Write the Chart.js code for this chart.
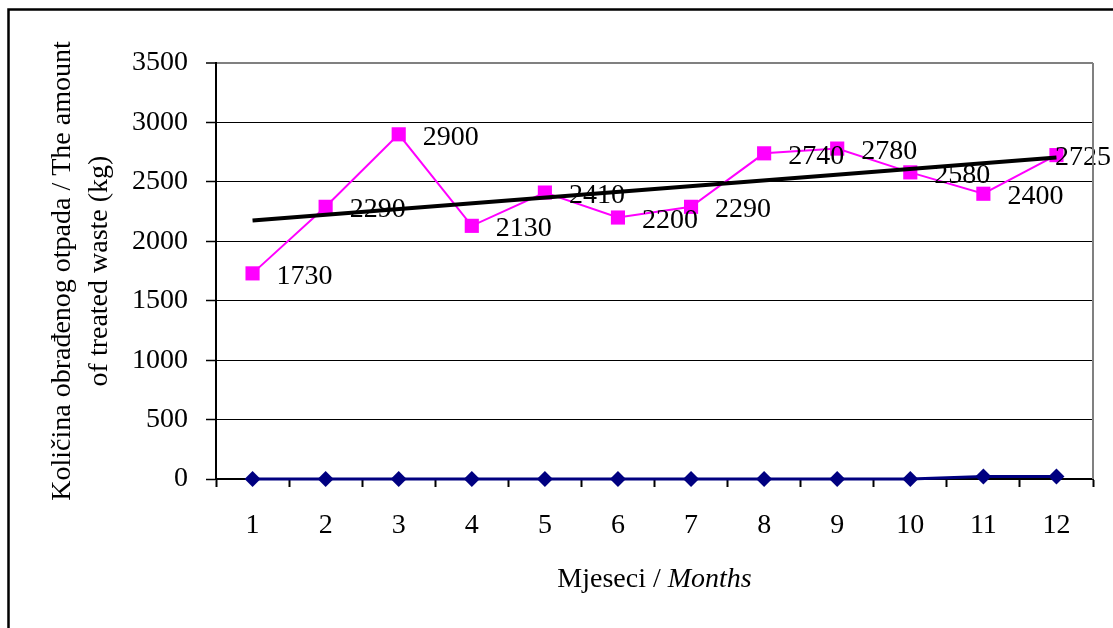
<!DOCTYPE html>
<html>
<head>
<meta charset="utf-8">
<script src="https://cdn.jsdelivr.net/npm/chart.js@4/dist/chart.umd.min.js"></script>
<style>
  html, body { margin: 0; padding: 0; background: #fff; }
  #wrap { width: 1113px; height: 628px; position: relative; }
</style>
</head>
<body>
<div id="wrap"><canvas id="c" width="1113" height="628"></canvas></div>
<script>
// Months on the x axis
const months = ['1', '2', '3', '4', '5', '6', '7', '8', '9', '10', '11', '12'];
// Monthly amount of treated waste (kg)
const treatedWaste = [1730, 2290, 2900, 2130, 2410, 2200, 2290, 2740, 2780, 2580, 2400, 2725];
// Second series that stays near zero
const lowSeries = [0, 0, 0, 0, 0, 0, 0, 0, 0, 0, 22, 22];
// Linear trend of the treated waste: start and end points only
const trendLine = [2175, null, null, null, null, null, null, null, null, null, null, 2705];
// Value axis ticks
const yTicks = [0, 500, 1000, 1500, 2000, 2500, 3000, 3500];

const SERIF = "'Liberation Serif', 'Times New Roman', serif";
const FS = 28;

const framePlugin = {
  id: 'frame',
  beforeDraw(chart) {
    const ctx = chart.ctx;
    ctx.save();
    ctx.fillStyle = '#fff';
    ctx.fillRect(0, 0, chart.width, chart.height);
    ctx.restore();
  },
  afterDraw(chart) {
    const ctx = chart.ctx;
    const a = chart.chartArea;
    ctx.save();
    // outer frame (top and left edges)
    ctx.strokeStyle = '#000';
    ctx.lineWidth = 2.5;
    ctx.beginPath();
    ctx.moveTo(8.5, chart.height + 2);
    ctx.lineTo(8.5, 9.5);
    ctx.lineTo(chart.width + 2, 9.5);
    ctx.stroke();
    // plot area right border
    ctx.strokeStyle = '#808080';
    ctx.lineWidth = 2;
    ctx.beginPath();
    ctx.moveTo(a.right, a.top);
    ctx.lineTo(a.right, a.bottom);
    ctx.stroke();

    // y axis title (two lines, rotated, centred on the plot area)
    const cy = (a.top + a.bottom) / 2;
    ctx.fillStyle = '#000';
    ctx.font = FS + 'px ' + SERIF;
    ctx.textAlign = 'center';
    ctx.textBaseline = 'alphabetic';
    ctx.save();
    ctx.translate(70, cy);
    ctx.rotate(-Math.PI / 2);
    ctx.fillText('Količina obrađenog otpada / The amount', 0, 0);
    ctx.restore();
    ctx.save();
    ctx.translate(107, cy);
    ctx.rotate(-Math.PI / 2);
    ctx.fillText('of treated waste (kg)', 0, 0);
    ctx.restore();

    // x axis title: regular + italic parts
    const part1 = 'Mjeseci / ';
    const part2 = 'Months';
    ctx.textAlign = 'left';
    ctx.font = FS + 'px ' + SERIF;
    const w1 = ctx.measureText(part1).width;
    ctx.font = 'italic ' + FS + 'px ' + SERIF;
    const w2 = ctx.measureText(part2).width;
    const cx = (a.left + a.right) / 2;
    const x0 = cx - (w1 + w2) / 2;
    ctx.font = FS + 'px ' + SERIF;
    ctx.fillText(part1, x0, 587);
    ctx.font = 'italic ' + FS + 'px ' + SERIF;
    ctx.fillText(part2, x0 + w1, 587);
    ctx.restore();
  }
};

const valueLabels = {
  id: 'valueLabels',
  afterDatasetsDraw(chart) {
    const ctx = chart.ctx;
    const meta = chart.getDatasetMeta(1);
    ctx.save();
    ctx.fillStyle = '#000';
    ctx.font = FS + 'px ' + SERIF;
    ctx.textAlign = 'left';
    ctx.textBaseline = 'middle';
    meta.data.forEach((pt, i) => {
      const txt = String(treatedWaste[i]);
      const w = ctx.measureText(txt).width;
      let x = pt.x + 24;
      if (x + w > chart.width - 2) x = chart.width - 2 - w;
      ctx.fillText(txt, x, pt.y + 3);
    });
    ctx.restore();
  }
};

new Chart(document.getElementById('c'), {
  type: 'line',
  data: {
    labels: months,
    datasets: [
      {
        label: 'Trend',
        data: trendLine,
        borderColor: '#000',
        borderWidth: 4,
        pointRadius: 0,
        spanGaps: true,
        tension: 0,
        clip: false
      },
      {
        label: 'Treated waste',
        data: treatedWaste,
        borderColor: '#FF00FF',
        backgroundColor: '#FF00FF',
        borderWidth: 2,
        pointStyle: 'rect',
        pointRadius: 10,
        pointBorderWidth: 0,
        pointBackgroundColor: '#FF00FF',
        tension: 0,
        clip: false
      },
      {
        label: 'Low series',
        data: lowSeries,
        borderColor: '#000080',
        backgroundColor: '#000080',
        borderWidth: 3,
        pointStyle: 'rectRot',
        pointRadius: 8,
        pointBorderWidth: 0,
        pointBackgroundColor: '#000080',
        tension: 0,
        clip: false
      }
    ]
  },
  options: {
    responsive: false,
    animation: false,
    events: [],
    layout: { padding: { left: 0, right: 20, top: 63, bottom: 0 } },
    plugins: {
      legend: { display: false },
      tooltip: { enabled: false },
      title: { display: false }
    },
    scales: {
      x: {
        type: 'category',
        offset: true,
        afterFit(scale) { scale.height = 149; },
        grid: {
          offset: true,
          drawOnChartArea: false,
          drawTicks: true,
          tickLength: 8,
          tickWidth: 2,
          tickColor: '#000'
        },
        border: { display: true, color: '#000', width: 2 },
        ticks: {
          color: '#000',
          font: { family: SERIF, size: FS },
          padding: 22,
          maxRotation: 0,
          autoSkip: false
        }
      },
      y: {
        min: 0,
        max: 3500,
        afterFit(scale) { scale.width = 216; },
        afterBuildTicks(scale) { scale.ticks = yTicks.map(v => ({ value: v })); },
        grid: {
          color: ctx => (ctx.tick && ctx.tick.value === 3500) ? '#808080' : '#000',
          lineWidth: ctx => (ctx.tick && ctx.tick.value === 3500) ? 2 : 1,
          drawTicks: true,
          tickLength: 10,
          tickColor: '#000',
          tickWidth: 1.5
        },
        border: { display: true, color: '#000', width: 2 },
        ticks: {
          color: '#000',
          font: { family: SERIF, size: FS },
          padding: 18,
          callback: v => String(v)
        }
      }
    }
  },
  plugins: [framePlugin, valueLabels]
});
</script>
</body>
</html>
